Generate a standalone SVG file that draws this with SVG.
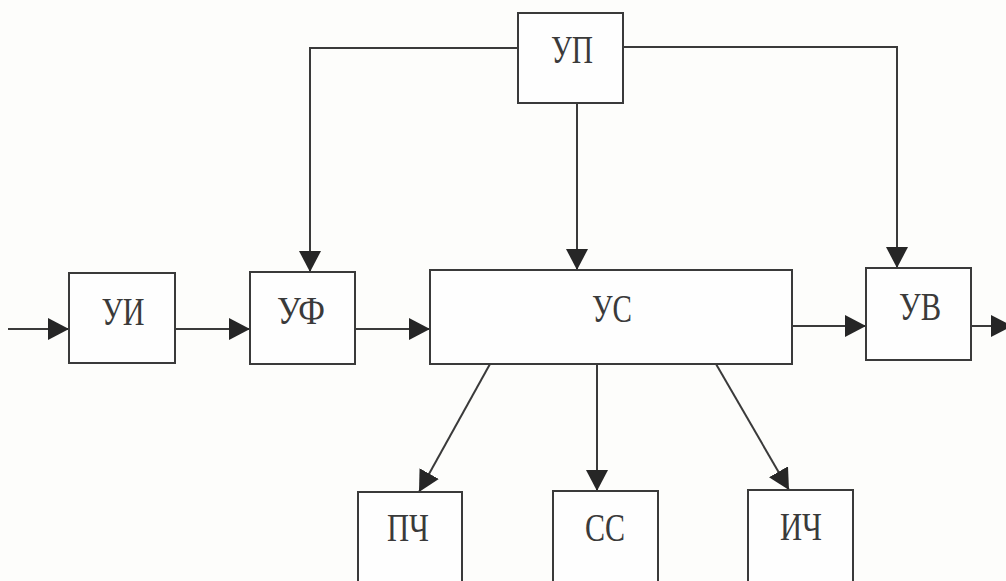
<svg xmlns="http://www.w3.org/2000/svg" width="1006" height="581" viewBox="0 0 1006 581">
<style>
.box{fill:#fefefe;stroke:#3a3a3a;stroke-width:2}
.lbl{font-family:"Liberation Serif","DejaVu Serif",serif;font-size:40px;fill:#3a3a3a;text-anchor:middle}
.ln{fill:none;stroke:#3a3a3a;stroke-width:2;marker-end:url(#ah)}
</style>
<defs>
<marker id="ah" markerUnits="userSpaceOnUse" markerWidth="22" markerHeight="22" refX="21" refY="11" orient="auto">
<path d="M0,0 L21,11 L0,22 z" fill="#262626"/>
</marker>
</defs>
<rect width="1006" height="581" fill="#fdfdfb"/>
<g id="connectors">
<line class="ln" x1="8" y1="329" x2="69" y2="329"/>
<line class="ln" x1="175" y1="329" x2="250" y2="329"/>
<line class="ln" x1="355" y1="329" x2="430" y2="329"/>
<line class="ln" x1="792" y1="326" x2="866" y2="326"/>
<line class="ln" x1="971" y1="326" x2="1012" y2="326"/>
<polyline class="ln" points="518,48 310,48 310,272"/>
<polyline class="ln" points="623,47 897,47 897,268"/>
<line class="ln" x1="577" y1="103" x2="577" y2="270"/>
<line class="ln" x1="490" y1="364" x2="419" y2="492"/>
<line class="ln" x1="597" y1="364" x2="597" y2="491"/>
<line class="ln" x1="716" y1="364" x2="789" y2="490"/>
</g>
<g id="up"><rect class="box" x="518" y="13" width="105" height="90"/><text class="lbl" x="572" y="63" textLength="42" lengthAdjust="spacingAndGlyphs">УП</text></g>
<g id="ui"><rect class="box" x="69" y="273" width="106" height="90"/><text class="lbl" x="123" y="325" textLength="43" lengthAdjust="spacingAndGlyphs">УИ</text></g>
<g id="uf"><rect class="box" x="250" y="272" width="105" height="92"/><text class="lbl" x="301" y="324" textLength="48" lengthAdjust="spacingAndGlyphs">УФ</text></g>
<g id="us"><rect class="box" x="430" y="270" width="362" height="94"/><text class="lbl" x="612" y="322" textLength="40" lengthAdjust="spacingAndGlyphs">УС</text></g>
<g id="uv"><rect class="box" x="866" y="268" width="105" height="92"/><text class="lbl" x="920" y="320" textLength="42" lengthAdjust="spacingAndGlyphs">УВ</text></g>
<g id="pch"><rect class="box" x="358" y="492" width="104" height="100"/><text class="lbl" x="408" y="541" textLength="42" lengthAdjust="spacingAndGlyphs">ПЧ</text></g>
<g id="ss"><rect class="box" x="553" y="491" width="105" height="100"/><text class="lbl" x="605" y="541" textLength="40" lengthAdjust="spacingAndGlyphs">СС</text></g>
<g id="ich"><rect class="box" x="748" y="490" width="105" height="100"/><text class="lbl" x="801" y="540" textLength="42" lengthAdjust="spacingAndGlyphs">ИЧ</text></g>
</svg>
